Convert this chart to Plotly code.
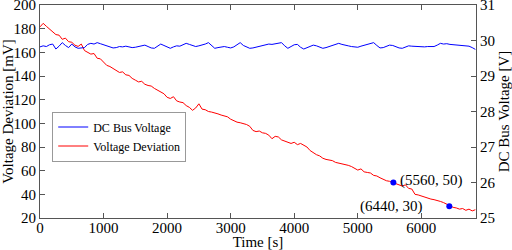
import plotly.graph_objects as go

time_s = [i * 50 for i in range(138)]

voltage_deviation = [
    181.5, 184.5, 182.0, 179.5, 177.0, 175.0, 174.5, 171.0, 172.0, 169.0,
    168.5, 166.0, 165.0, 167.0, 161.5, 160.0, 158.5, 159.0, 155.0, 154.5,
    152.0, 149.0, 148.0, 146.5, 145.0, 143.0, 143.5, 141.0, 140.5, 138.0,
    136.5, 135.0, 135.5, 133.0, 132.0, 131.5, 129.5, 128.0, 126.5, 125.0,
    122.0, 121.0, 122.5, 119.0, 118.0, 117.5, 115.0, 113.5, 111.0, 113.0,
    116.5, 112.0, 111.5, 110.0, 109.5, 109.0, 108.0, 107.0, 106.0, 105.5,
    103.5, 102.0, 101.0, 100.5, 100.0, 99.0, 97.5, 94.0, 93.0, 93.5,
    92.0, 91.5, 90.0, 87.0, 89.0, 88.5, 86.0, 85.0, 84.5, 83.0,
    84.0, 82.0, 83.0, 81.5, 80.0, 77.0, 75.0, 73.5, 72.5, 70.5,
    69.5, 69.0, 68.5, 67.0, 66.5, 66.0, 65.5, 64.5, 63.5, 62.0,
    60.5, 61.5, 59.0, 58.5, 58.0, 56.0, 55.5, 54.0, 52.5, 51.5,
    51.0, 50.0, 49.5, 48.5, 47.0, 48.0, 45.0, 44.5, 40.0, 39.5,
    38.5, 38.0, 36.5, 36.0, 35.5, 35.0, 34.0, 33.0, 31.5, 30.5,
    29.0, 28.5, 27.5, 28.0, 26.5, 27.5, 26.0, 27.0,
]

dc_bus_voltage = [
    29.82, 29.85, 29.83, 29.88, 29.90, 29.76, 29.84, 29.94, 29.86, 29.80,
    29.90, 29.82, 29.78, 29.79, 29.80, 29.89, 29.92, 29.90, 29.94, 29.91,
    29.88, 29.86, 29.82, 29.79, 29.80, 29.83, 29.82, 29.84, 29.82, 29.80,
    29.81, 29.83, 29.85, 29.87, 29.83, 29.79, 29.78, 29.84, 29.90, 29.86,
    29.81, 29.78, 29.82, 29.85, 29.84, 29.88, 29.92, 29.89, 29.85, 29.83,
    29.85, 29.87, 29.90, 29.94, 29.86, 29.78, 29.80, 29.82, 29.83, 29.81,
    29.79, 29.82, 29.88, 29.94, 29.86, 29.81, 29.78, 29.79, 29.81, 29.83,
    29.84, 29.87, 29.90, 29.89, 29.91, 29.92, 29.94, 29.85, 29.78, 29.83,
    29.88, 29.89, 29.81, 29.76, 29.80, 29.84, 29.87, 29.85, 29.81, 29.78,
    29.80, 29.83, 29.84, 29.88, 29.92, 29.89, 29.86, 29.85, 29.83, 29.82,
    29.81, 29.84, 29.86, 29.88, 29.91, 29.94, 29.86, 29.79, 29.80, 29.84,
    29.87, 29.86, 29.82, 29.79, 29.78, 29.82, 29.85, 29.84, 29.83, 29.82,
    29.81, 29.82, 29.83, 29.84, 29.83, 29.87, 29.92, 29.90, 29.91, 29.89,
    29.88, 29.87, 29.86, 29.85, 29.83, 29.84, 29.80, 29.75,
]

marked_t = [5560, 6440]
marked_v = [50, 30]
marked_labels = ["(5560, 50)", "(6440, 30)"]

FONT = "Liberation Serif"

fig = go.Figure()
fig.add_trace(go.Scatter(x=time_s, y=dc_bus_voltage, mode="lines", name="DC Bus Voltage",
                         line=dict(color="#0000ff", width=1), yaxis="y2"))
fig.add_trace(go.Scatter(x=time_s, y=voltage_deviation, mode="lines", name="Voltage Deviation",
                         line=dict(color="#ff0000", width=1)))
fig.add_trace(go.Scatter(x=marked_t, y=marked_v, mode="markers", showlegend=False,
                         marker=dict(color="#0000ff", size=6)))

fig.add_annotation(x=marked_t[0], y=marked_v[0], text=marked_labels[0], showarrow=False,
                   xanchor="left", yanchor="middle", xshift=5, yshift=2,
                   font=dict(family=FONT, size=15, color="black"))
fig.add_annotation(x=marked_t[1], y=marked_v[1], text=marked_labels[1], showarrow=False,
                   xanchor="right", yanchor="middle", xshift=-24, yshift=0,
                   font=dict(family=FONT, size=15, color="black"))

axis_common = dict(showgrid=False, zeroline=False, showline=True, linecolor="#555555",
                   linewidth=1, ticks="inside", ticklen=5, tickcolor="#555555",
                   ticklabeloverflow="allow",
                   tickfont=dict(family=FONT, size=15, color="black"))

fig.update_layout(
    template="none",
    width=512, height=250,
    margin=dict(l=40, r=36, t=5, b=32),
    paper_bgcolor="white", plot_bgcolor="white",
    font=dict(family=FONT, size=15, color="black"),
    xaxis=dict(range=[0, 6860], tickvals=[0, 1000, 2000, 3000, 4000, 5000, 6000],
               mirror="ticks", automargin=False, ticklabelstandoff=-4,
               title=dict(text="Time [s]", standoff=0, font=dict(family=FONT, size=15)),
               **axis_common),
    yaxis=dict(range=[20, 200], tickvals=[20, 40, 60, 80, 100, 120, 140, 160, 180, 200],
               automargin=False,
               title=dict(text="Voltage Deviation [mV]", standoff=0, font=dict(family=FONT, size=15)),
               **axis_common),
    yaxis2=dict(range=[25, 31], tickvals=[25, 26, 27, 28, 29, 30, 31], overlaying="y",
                side="right", automargin=False,
                title=dict(text="DC Bus Voltage [V]", standoff=0, font=dict(family=FONT, size=15)),
                **axis_common),
    legend=dict(x=0.028, y=0.50, xanchor="left", yanchor="top", bgcolor="white",
                bordercolor="#999999", borderwidth=1,
                font=dict(family=FONT, size=12, color="black"),
                tracegroupgap=0, itemwidth=30),
    showlegend=True,
)

fig.write_html("out.html", config={"displayModeBar": False},
               post_script="document.body.style.margin='0';document.body.style.padding='0';")
